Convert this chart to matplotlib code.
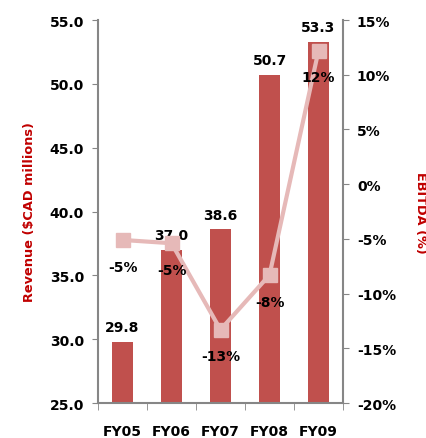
import matplotlib.pyplot as plt
import numpy as np

years = ['FY05', 'FY06', 'FY07', 'FY08', 'FY09']
revenue = [29.8, 37.0, 38.6, 50.7, 53.3]
ebitda = [-5.1, -5.4, -13.3, -8.3, 12.2]
ebitda_labels = ['-5%', '-5%', '-13%', '-8%', '12%']

plt.rcParams['font.family'] = ['DejaVu Sans']
plt.rcParams['font.weight'] = 'bold'

bar_col = '#C0504D'
line_col = '#E6B9B8'
axis_col = '#868686'
lab_col = '#C00000'

fig = plt.figure(figsize=(4.26, 4.39), dpi=100)
ax = fig.add_axes([98/426, 1 - 404/439, 245/426, 383/439])
x = np.arange(len(years))

ax.bar(x, revenue, width=0.41, color=bar_col, zorder=2)
ax.set_ylim(25, 55)
ax.set_xlim(-0.5, 4.5)
ax.set_yticks(np.arange(25, 56, 5))
ax.set_yticklabels([f'{v:.1f}' for v in np.arange(25, 56, 5)], fontsize=10, fontweight='bold')
ax.set_xticks(x)
ax.set_xticklabels(years, fontsize=10, fontweight='bold')
ax.tick_params(axis='x', length=0, pad=15)
ax.set_xticks(np.arange(-0.5, 5, 1), minor=True)
ax.tick_params(axis='x', which='minor', length=5, color=axis_col)
ax.tick_params(axis='y', length=4, color=axis_col, pad=6)
for s in ['top', 'right']:
    ax.spines[s].set_visible(False)
for s in ['left', 'bottom']:
    ax.spines[s].set_color(axis_col)
    ax.spines[s].set_linewidth(1.5)
ax.set_ylabel('Revenue ($CAD millions)', color=lab_col, fontsize=9.3, fontweight='bold', labelpad=10)

for i, v in enumerate(revenue):
    ax.text(i, v + 0.6, f'{v:.1f}', ha='center', va='bottom', fontsize=10, fontweight='bold', zorder=5)

ax2 = ax.twinx()
ax2.plot(x, ebitda, color=line_col, lw=3, marker='s', markersize=10, zorder=3)
ax2.set_ylim(-20, 15)
ax2.set_yticks(np.arange(-20, 16, 5))
ax2.set_yticklabels([f'{v}%' for v in np.arange(-20, 16, 5)], fontsize=10, fontweight='bold')
ax2.tick_params(axis='y', length=4, color=axis_col, pad=6)
for s in ['top', 'left', 'bottom']:
    ax2.spines[s].set_visible(False)
ax2.spines['right'].set_color(axis_col)
ax2.spines['right'].set_linewidth(1.5)
ax2.set_ylabel('EBITDA (%)', color=lab_col, fontsize=9.3, fontweight='bold', rotation=270, labelpad=22)

for i, (v, t) in enumerate(zip(ebitda, ebitda_labels)):
    ax2.text(i, v - 1.8, t, ha='center', va='top', fontsize=10, fontweight='bold', zorder=5)

fig.savefig('out.png', dpi=100)
